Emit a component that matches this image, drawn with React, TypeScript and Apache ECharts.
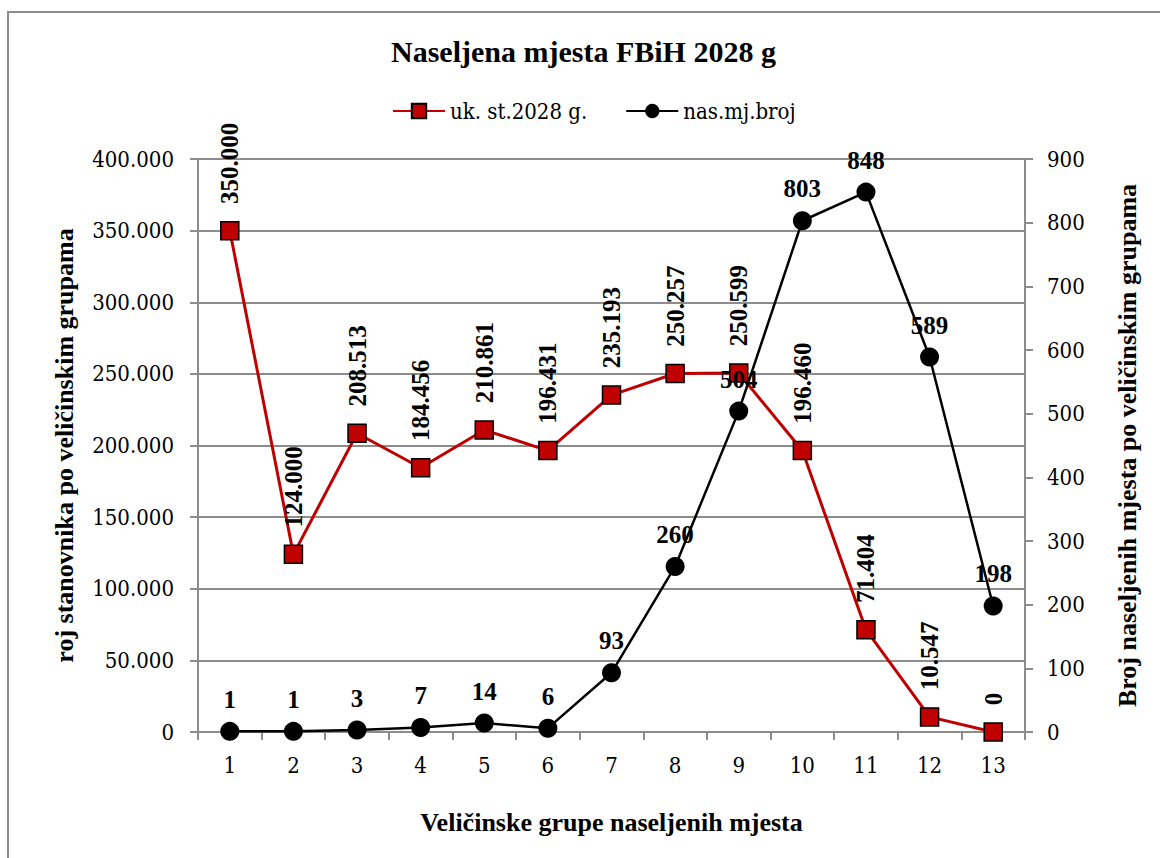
import React, { useEffect, useRef } from "react";
import * as echarts from "echarts";

const categories = ["1", "2", "3", "4", "5", "6", "7", "8", "9", "10", "11", "12", "13"];
const population = [350000, 124000, 208513, 184456, 210861, 196431, 235193, 250257, 250599, 196460, 71404, 10547, 0];
const settlements = [1, 1, 3, 7, 14, 6, 93, 260, 504, 803, 848, 589, 198];

const FONT_BOLD = "Liberation Serif";
const FONT_REG = "'DejaVu Serif Condensed', 'DejaVu Serif', serif";
const GRAY = "#8c8c8c";

const fmt = (v: number) => String(Math.round(v)).replace(/\B(?=(\d{3})+(?!\d))/g, ".");

const bold = { fontFamily: FONT_BOLD, fontWeight: "bold" as const, color: "#000" };
const reg = { fontFamily: FONT_REG, color: "#000" };

export default function App() {
  const ref = useRef<HTMLDivElement>(null);
  useEffect(() => {
    if (!ref.current) return;
    const chart = echarts.init(ref.current, undefined, { renderer: "svg" });
    chart.setOption({
      animation: false,
      backgroundColor: "#fff",
      title: {
        text: "Naseljena mjesta FBiH 2028 g",
        left: 386,
        top: 31,
        textStyle: { ...bold, fontSize: 30 },
      },
      legend: {
        left: 387,
        top: 95,
        itemWidth: 52,
        itemHeight: 18,
        itemGap: 38,
        textStyle: { ...reg, fontSize: 22 },
        data: ["uk. st.2028 g.", "nas.mj.broj"],
      },
      grid: { left: 198, right: 135, top: 159, bottom: 126 },
      xAxis: {
        type: "category",
        data: categories,
        boundaryGap: true,
        axisLine: { show: true, lineStyle: { color: GRAY, width: 2 } },
        axisTick: { show: true, length: 8, lineStyle: { color: GRAY, width: 2 } },
        axisLabel: { ...reg, fontSize: 22, margin: 22 },
        splitLine: { show: false },
        name: "Veličinske grupe naseljenih mjesta",
        nameLocation: "middle",
        nameGap: 77,
        nameTextStyle: { ...bold, fontSize: 26 },
      },
      yAxis: [
        {
          type: "value",
          position: "left",
          min: 0,
          max: 400000,
          interval: 50000,
          axisLine: { show: true, lineStyle: { color: GRAY, width: 2 } },
          axisTick: { show: true, length: 8, lineStyle: { color: GRAY, width: 2 } },
          axisLabel: { ...reg, fontSize: 22, margin: 24, formatter: (v: number) => fmt(v) },
          splitLine: { show: true, lineStyle: { color: GRAY, width: 2 } },
          name: "roj stanovnika po veličinskim grupama",
          nameLocation: "middle",
          nameRotate: 90,
          nameGap: 121,
          nameTextStyle: { ...bold, fontSize: 26 },
        },
        {
          type: "value",
          position: "right",
          min: 0,
          max: 900,
          interval: 100,
          axisLine: { show: true, lineStyle: { color: GRAY, width: 2 } },
          axisTick: { show: true, length: 8, lineStyle: { color: GRAY, width: 2 } },
          axisLabel: { ...reg, fontSize: 22, margin: 22 },
          splitLine: { show: false },
          name: "Broj naseljenih mjesta po veličinskim grupama",
          nameLocation: "middle",
          nameRotate: 90,
          nameGap: 89,
          nameTextStyle: { ...bold, fontSize: 26 },
        },
      ],
      series: [
        {
          type: "line",
          name: "uk. st.2028 g.",
          data: population,
          yAxisIndex: 0,
          symbol: "rect",
          symbolSize: 18,
          lineStyle: { color: "#c00000", width: 3 },
          itemStyle: { color: "#c00000", borderColor: "#000", borderWidth: 1.5 },
          label: {
            show: true,
            position: "top",
            distance: 17,
            rotate: 90,
            align: "left",
            verticalAlign: "middle",
            ...bold,
            fontSize: 25,
            formatter: (p: any) => fmt(p.value),
          },
          z: 2,
        },
        {
          type: "line",
          name: "nas.mj.broj",
          data: settlements,
          yAxisIndex: 1,
          symbol: "circle",
          symbolSize: 19,
          lineStyle: { color: "#000", width: 2.5 },
          itemStyle: { color: "#000" },
          label: {
            show: true,
            position: "top",
            distance: 10,
            ...bold,
            fontSize: 25,
          },
          z: 3,
        },
      ],
      graphic: [
        {
          type: "rect",
          silent: true,
          z: -1,
          shape: { x: 8, y: 12, width: 1200, height: 900 },
          style: { fill: "none", stroke: GRAY, lineWidth: 2 },
        },
      ],
    });
    return () => chart.dispose();
  }, []);
  return <div ref={ref} style={{ position: "fixed", left: 0, top: 0, width: 1160, height: 858 }} />;
}
